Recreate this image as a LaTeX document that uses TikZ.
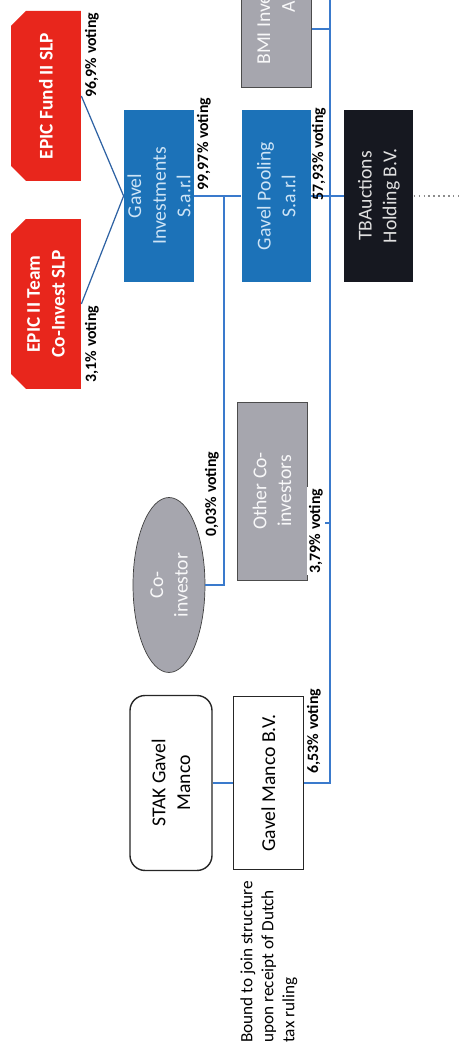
\documentclass[tikz,border=0pt]{standalone}
\usepackage{fontspec}
\setmainfont{Carlito}
\usetikzlibrary{shapes.geometric, shapes.misc, positioning}

\definecolor{epicred}{RGB}{232,38,28}
\definecolor{gavelblue}{RGB}{28,114,184}
\definecolor{gaveltext}{RGB}{205,228,246}
\definecolor{tbablack}{RGB}{22,24,32}
\definecolor{cogrey}{RGB}{166,166,174}
\definecolor{linkblue}{RGB}{58,122,204}

\begin{document}
\begin{tikzpicture}[
    x=0.02cm, y=0.02cm,
    node distance=0.8cm,
    boxtext/.style={font=\fontsize{11.2}{14}\selectfont, align=center, inner sep=2pt},
    redbox/.style={chamfered rectangle, chamfered rectangle corners={north west, north east}, chamfered rectangle xsep=0.15cm, chamfered rectangle ysep=0.15cm, fill=epicred, text=white, minimum width=3.4cm, minimum height=1.4cm, boxtext, font=\fontsize{11}{14}\selectfont\bfseries},
    bluebox/.style={rectangle, fill=gavelblue, text=gaveltext, minimum width=3.44cm, minimum height=1.38cm, boxtext},
    blackbox/.style={rectangle, fill=tbablack, text=white!88!black, minimum width=3.44cm, minimum height=1.38cm, boxtext},
    greybox/.style={rectangle, draw=black!70, fill=cogrey, text=white!92!cogrey, minimum width=3.44cm, minimum height=1.4cm, boxtext},
    plainbox/.style={rectangle, draw=black!85, line width=0.8pt, fill=white, minimum width=3.46cm, minimum height=1.4cm, boxtext},
    stakbox/.style={plainbox, rounded corners=0.3cm, minimum width=3.5cm, minimum height=1.64cm},
    vote/.style={font=\fontsize{9}{11}\selectfont\bfseries, inner sep=1pt},
    note/.style={font=\fontsize{9.8}{12}\selectfont, align=left, inner sep=0pt},
    link/.style={draw=linkblue, line width=1pt},
    thinlink/.style={draw=linkblue!80!black, line width=0.7pt},
    dotlink/.style={draw=black!45, line width=0.8pt, dotted}
]
\begin{scope}[rotate=90, transform shape]
\useasboundingbox (0,0) rectangle (1050,459);
\clip (0,0) rectangle (1050,459);

% Funds on top
\node[redbox] (epicfund) at (954,413) {EPIC Fund II SLP};
\node[redbox] (epicteam) at (746,413) {EPIC II Team\\Co-Invest SLP};

% Gavel chain
\node[bluebox] (gavelinv) at (854,300) {Gavel\\Investments\\S.a.r.l};
\node[bluebox, below=0.94cm of gavelinv] (gavelpool) {Gavel Pooling\\S.a.r.l};
\node[blackbox, below=0.66cm of gavelpool] (tbauctions) {TBAuctions\\Holding B.V.};
\node[greybox, right=0.44cm of gavelpool] (bmi) {BMI Investment\\AB};

% Co-investors
\node[greybox, minimum width=3.56cm] (others) at (559,187) {Other Co-\\investors};
\node[ellipse, draw=black!75, fill=cogrey, text=white!92!cogrey, minimum width=3.5cm, minimum height=1.44cm, boxtext] (coinv) at (465,290) {Co-\\investor};

% Management
\node[stakbox] (stak) at (267,288) {STAK Gavel\\Manco};
\node[plainbox, below=0.4cm of stak] (manco) {Gavel Manco B.V.};
\node[note, anchor=north west] (ruling) at (7,219) {Bound to join structure\\upon receipt of Dutch\\tax ruling};

% Free ends
\coordinate (busend) at (1060,129);
\coordinate (tbaedge) at (854,-5);

% Links
\draw[thinlink] (epicfund.south) -- (gavelinv.north);
\draw[thinlink] (epicteam.south) -- (gavelinv.north);
\draw[link] (gavelinv) -- (gavelpool);
\draw[link] (gavelpool) -- (tbauctions);
\draw[dotlink] (tbauctions.south) -- (tbaedge);
\draw[link] (coinv.south) |- ([yshift=-0.6cm]gavelinv.south);
\draw[link] (stak) -- (manco);
\draw[link] (manco.south) |- (busend);
\draw[link] ([xshift=-0.56cm]bmi.south) -- ([xshift=-0.56cm]bmi.south |- busend);
\draw[link] ([xshift=-0.64cm]others.south) -- ([xshift=-0.64cm]others.south |- busend);

% Voting labels
\node[vote] (v969) at (995,367) {96,9\% voting};
\node[vote] (v31) at (706,367) {3,1\% voting};
\node[vote] (v9997) at (906,255) {99,97\% voting};
\node[vote] (v003) at (556,247) {0,03\% voting};
\node[vote] (v5793) at (896,140) {57,93\% voting};
\node[vote, fill=white] (v379) at (519,143) {3,79\% voting};
\node[vote] (v653) at (319,145) {6,53\% voting};
\end{scope}
\end{tikzpicture}
\end{document}
